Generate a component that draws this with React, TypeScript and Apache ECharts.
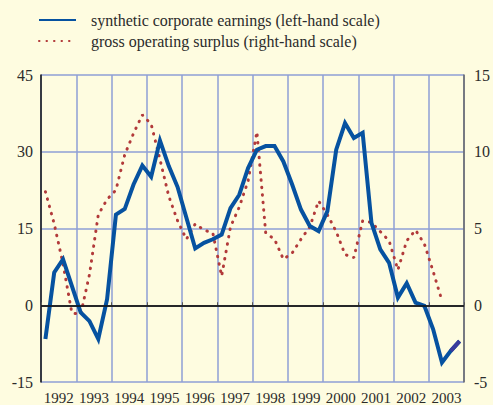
import React, { useEffect, useRef } from "react";
import * as echarts from "echarts";

const years = ["1992", "1993", "1994", "1995", "1996", "1997", "1998", "1999", "2000", "2001", "2002", "2003"];

// synthetic corporate earnings, quarterly 1992Q1..2003Q4 (left-hand scale)
const earnings = [
  -6.6, 6.4, 9.0, 3.8,
  -1.4, -3.1, -6.6, 1.2,
  17.7, 18.8, 23.6, 27.3,
  25.1, 32.2, 27.2, 23.1,
  17.1, 11.1, 12.2, 12.9,
  13.8, 19.0, 21.6, 26.8,
  30.4, 31.1, 31.1, 28.1,
  23.6, 18.7, 15.5, 14.5,
  18.4, 30.4, 35.6, 32.7,
  33.7, 16.1, 10.9, 8.3,
  1.5, 4.3, 0.5, -0.1,
  -4.7, -11.2, -8.9, -7.0,
];

// gross operating surplus, quarterly 1992Q1..2003Q2 (right-hand scale)
const surplus = [
  7.4, 5.3, 2.7, -0.5,
  -0.6, 2.0, 5.9, 6.9,
  7.5, 9.8, 11.2, 12.4,
  11.8, 9.5, 7.1, 5.5,
  4.3, 5.3, 4.9, 4.7,
  1.9, 5.1, 6.4, 8.1,
  11.3, 4.7, 4.3, 3.0,
  3.4, 4.3, 5.1, 6.8,
  5.9, 4.8, 3.3, 3.1,
  5.5, 5.4, 4.8, 4.2,
  2.3, 4.2, 4.9, 4.0,
  2.2, 0.3,
];

const leftTicks = { min: -15, max: 45, interval: 15 };
const rightTicks = { min: -5, max: 15, interval: 5 };

const startYear = 1992;
const qt = (i: number) => startYear + (i + 0.5) / 4;

const FONT = "Times New Roman, Times, Liberation Serif, DejaVu Serif, serif";
const BG = "#FEFCE0";
const GRID = "#8E9FD6";
const TEXT = "#2b2b2b";

export default function App() {
  const ref = useRef<HTMLDivElement>(null);
  useEffect(() => {
    if (!ref.current) return;
    const chart = echarts.init(ref.current, undefined, { renderer: "svg" });
    const earnPts = earnings.map((v, i) => [qt(i), v]);
    const surpPts = surplus.map((v, i) => [qt(i), v]);
    const n = earnings.length;
    const lastPts = earnings.map((v, i) => [qt(i), i >= n - 2 ? v : null]);
    chart.setOption({
      animation: false,
      backgroundColor: BG,
      textStyle: { fontFamily: FONT },
      legend: {
        orient: "vertical",
        left: 38,
        top: 12,
        padding: 0,
        itemWidth: 37,
        itemHeight: 14,
        itemGap: 5,
        itemStyle: { color: "transparent", borderWidth: 0, opacity: 0 },
        textStyle: { fontFamily: FONT, fontSize: 16, color: TEXT, padding: [0, 0, 0, 10] },
        data: ["synthetic corporate earnings (left-hand scale)", "gross operating surplus (right-hand scale)"],
      },
      grid: { left: 41, right: 29, top: 75, bottom: 22, containLabel: false },
      xAxis: [
        {
          type: "value",
          min: startYear,
          max: startYear + years.length,
          interval: 1,
          axisLine: { show: true, lineStyle: { color: "#555", width: 1.5 } },
          axisTick: { show: true, inside: true, length: 3, lineStyle: { color: "#555" } },
          axisLabel: { show: false },
          splitLine: { show: true, lineStyle: { color: GRID, width: 1.5 } },
        },
        {
          type: "category",
          data: years,
          boundaryGap: true,
          position: "bottom",
          axisLine: { show: false },
          axisTick: { show: false },
          axisLabel: { show: true, interval: 0, fontFamily: FONT, fontSize: 15, color: TEXT, margin: 8 },
          splitLine: { show: false },
        },
      ],
      yAxis: [
        {
          type: "value",
          ...leftTicks,
          axisLine: { show: true, lineStyle: { color: "#111", width: 1.5 } },
          axisTick: { show: false },
          axisLabel: { fontFamily: FONT, fontSize: 16, color: TEXT, margin: 8 },
          splitLine: { show: true, lineStyle: { color: GRID, width: 1.5 } },
        },
        {
          type: "value",
          position: "right",
          ...rightTicks,
          axisLine: { show: true, lineStyle: { color: "#666", width: 1.5 } },
          axisTick: { show: false },
          axisLabel: { fontFamily: FONT, fontSize: 16, color: TEXT, margin: 10 },
          splitLine: { show: false },
        },
      ],
      series: [
        {
          type: "line",
          name: "zero",
          xAxisIndex: 0,
          yAxisIndex: 0,
          data: [],
          z: 1,
          silent: true,
          markLine: {
            silent: true,
            symbol: ["none", "none"],
            label: { show: false },
            lineStyle: { color: "#111", width: 1.5, type: "solid" },
            data: [{ yAxis: 0 }],
          },
        },
        {
          type: "line",
          name: "gross operating surplus (right-hand scale)",
          xAxisIndex: 0,
          yAxisIndex: 1,
          data: surpPts,
          showSymbol: false,
          symbol: "none",
          z: 2,
          itemStyle: { color: "#B23A3A" },
          lineStyle: { color: "#B23A3A", width: 3, type: [0.5, 7], cap: "round" },
        },
        {
          type: "line",
          name: "synthetic corporate earnings (left-hand scale)",
          xAxisIndex: 0,
          yAxisIndex: 0,
          data: earnPts,
          showSymbol: false,
          symbol: "none",
          z: 3,
          itemStyle: { color: "#0652A0" },
          lineStyle: { color: "#0652A0", width: 4, join: "miter" },
        },
        {
          type: "line",
          name: "last",
          xAxisIndex: 0,
          yAxisIndex: 0,
          data: lastPts,
          showSymbol: false,
          symbol: "none",
          z: 4,
          lineStyle: { color: "#3A3A9C", width: 4 },
        },
      ],
    });
    return () => chart.dispose();
  }, []);
  return (
    <div
      ref={ref}
      style={{ position: "fixed", left: 0, top: 0, width: 493, height: 405 }}
    />
  );
}
